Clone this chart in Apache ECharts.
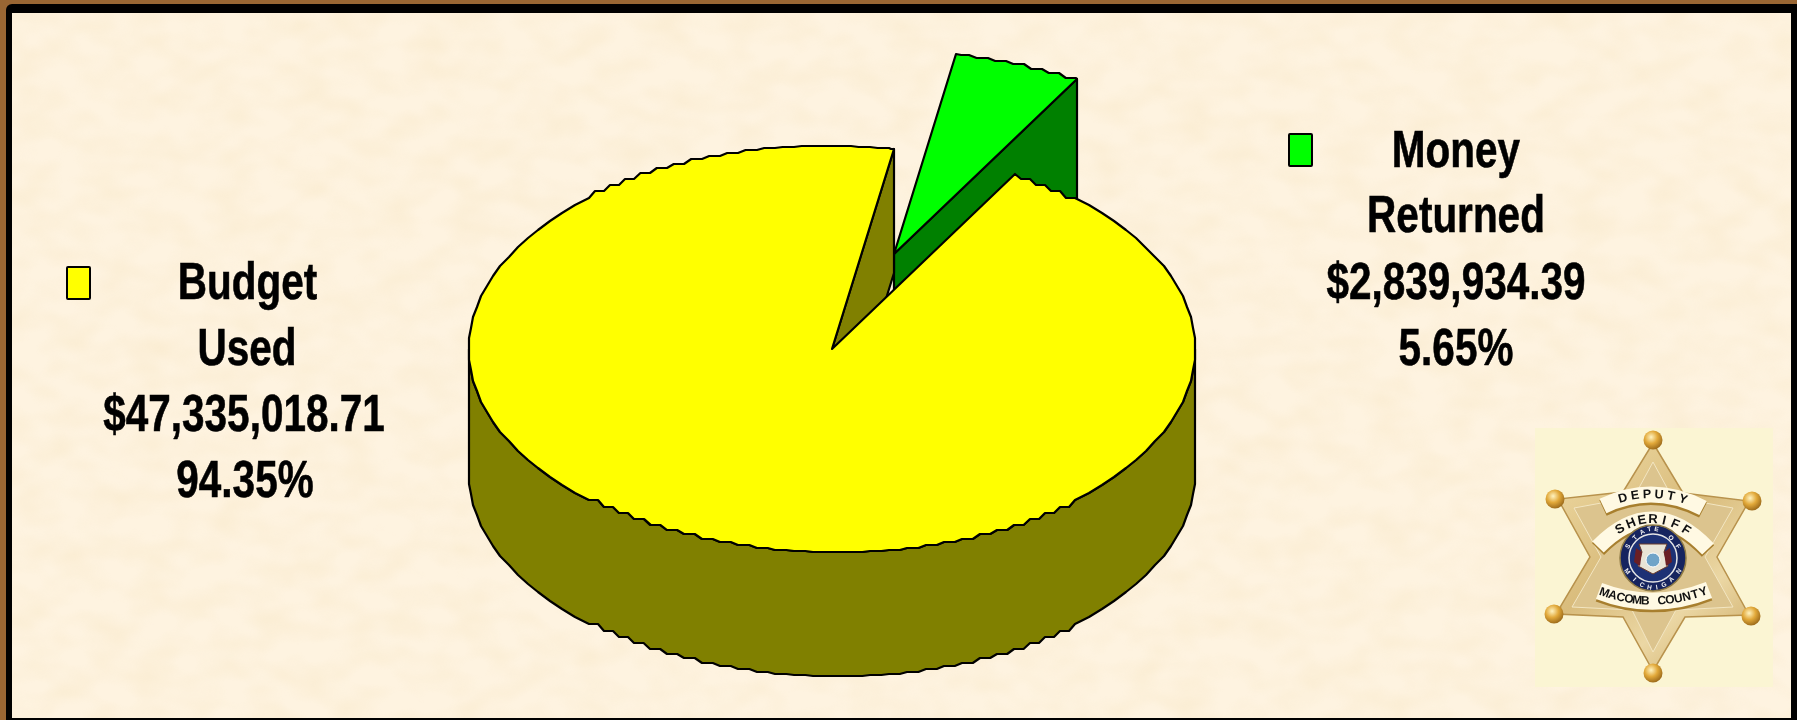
<!DOCTYPE html>
<html><head><meta charset="utf-8">
<script src="https://cdn.jsdelivr.net/npm/echarts@6/dist/echarts.min.js"></script>
<style>
html,body{margin:0;padding:0;width:1797px;height:720px;overflow:hidden;background:#996633}
#frame{position:absolute;left:6px;top:4px;width:1791px;height:716px;background:#000;border-top-left-radius:6px}
#paper{position:absolute;left:12px;top:13px;width:1779px;height:705px;background-color:#FEF3E0;
background-image:url("data:image/svg+xml;utf8,<svg xmlns='http://www.w3.org/2000/svg' width='1779' height='705'><filter id='n' color-interpolation-filters='sRGB' x='0' y='0' width='100%' height='100%'><feTurbulence type='fractalNoise' baseFrequency='0.025 0.04' numOctaves='2' seed='7'/><feColorMatrix values='0 0 0 0 0.95 0 0 0 0 0.87 0 0 0 0 0.70 1.6 0 0 0 -0.55'/></filter><rect width='1779' height='705' filter='url(%23n)' opacity='0.3'/></svg>")}
#chart{position:absolute;left:0;top:0;width:1797px;height:720px}
</style></head><body>
<div id="frame"></div><div id="paper"></div><div id="chart"></div>
<script>
// Chart data (clockwise from the pie's start angle)
const categories = ['Money Returned', 'Budget Used'];
const amounts = [2839934.39, 47335018.71];
const percentLabels = ['5.65%', '94.35%'];
const nameLines = [['Money', 'Returned'], ['Budget', 'Used']];
const topColors = ['#00FF00', '#FFFF00'];
const sideColors = ['#008000', '#808000'];

// 3-D pie layout
const CX = 832, CY = 349, RX = 363, RY = 203, DEPTH = 124, STEP = 3;
const START_DEG = 80.1;
const EXPLODE = [[62, -95], [0, 0]];
const LEGEND = [
  {sw: [1289, 134], textX: [1456, 1456, 1456, 1456], base: [171, 236, 303, 369]},
  {sw: [67, 267], textX: [247.5, 247, 244, 245], base: [303, 369, 435, 501]}
];
const FONT_SIZE = 50, TEXT_SCALE_X = 0.81;
const FONT = '"Liberation Sans",Arial,sans-serif';
const LINE = '#000';

function rimPoint(deg, ox, oy) {
  const a = deg * Math.PI / 180;
  return [Math.round(CX + ox + RX * Math.cos(a)), Math.round(CY + oy - RY * Math.sin(a))];
}
// Rim between two angles on a fixed angle grid, with the stepped outline of the original raster.
// Built in ascending angle order so that the top and bottom rims step identically.
function rim(deg0, deg1, ox, oy) {
  const lo = Math.min(deg0, deg1), hi = Math.max(deg0, deg1), angles = [lo];
  for (let g = (Math.floor(lo / STEP) + 1) * STEP; g < hi; g += STEP) angles.push(g);
  angles.push(hi);
  let prev = rimPoint(angles[0], ox, oy);
  const pts = [prev];
  for (let i = 1; i < angles.length; i++) {
    const q = rimPoint(angles[i], ox, oy);
    const dx = q[0] - prev[0], dy = q[1] - prev[1];
    if (Math.abs(dx) > 2 * Math.abs(dy)) pts.push([prev[0] + 0.6 * dx, prev[1]]);
    pts.push(q); prev = q;
  }
  return deg1 > deg0 ? pts : pts.reverse();
}
function poly(points, fill, lw) {
  return {type: 'polygon', shape: {points}, style: {fill, stroke: LINE, lineWidth: lw || 2.2, lineJoin: 'round'}};
}

function renderSlice(params, api) {
  const i = params.dataIndex;
  const total = amounts.reduce((a, b) => a + b, 0);
  let before = 0; for (let k = 0; k < i; k++) before += api.value(0, k);
  const a0 = START_DEG - before / total * 360;
  const a1 = a0 - api.value(0) / total * 360;
  const [ox, oy] = EXPLODE[i];
  const apex = [CX + ox, CY + oy];
  const p1 = rimPoint(a1, ox, oy);
  const children = [];
  if (i === 1) {
    children.push(poly(rim(180, 360, ox, oy).concat(rim(360, 180, ox, oy + DEPTH)), sideColors[i]));
  }
  children.push(poly([apex, p1, [p1[0], p1[1] + DEPTH], [apex[0], apex[1] + DEPTH]], sideColors[i]));
  children.push(poly([apex].concat(rim(a0, a1, ox, oy)), topColors[i]));
  // legend block
  const L = LEGEND[i];
  children.push({type: 'rect', shape: {x: L.sw[0], y: L.sw[1], width: 23, height: 32, r: 1},
    style: {fill: topColors[i], stroke: LINE, lineWidth: 2}});
  const money = '$' + api.value(0).toLocaleString('en-US', {minimumFractionDigits: 2, maximumFractionDigits: 2});
  nameLines[i].concat([money, percentLabels[i]]).forEach((t, k) => children.push({
    type: 'text', x: L.textX[k], y: L.base[k] - 18, scaleX: TEXT_SCALE_X, scaleY: 1.03,
    style: {x: 0, y: 0, text: t, fill: '#000', stroke: '#000', lineWidth: 0.6, align: 'center', verticalAlign: 'middle',
      font: 'bold ' + FONT_SIZE + 'px ' + FONT}
  }));
  return {type: 'group', children};
}

// Sheriff badge (decoration, no data)
const badge = (function () {
  const out = [];
  const gold = {type: 'linear', x: 0, y: 0, x2: 1, y2: 1, colorStops: [
    {offset: 0, color: '#F0DCA6'}, {offset: .45, color: '#D9BC7C'}, {offset: .7, color: '#EBD7A4'}, {offset: 1, color: '#C9A55E'}]};
  const ball = (x, y) => ({type: 'circle', shape: {cx: x, cy: y, r: 9.5}, style: {
    fill: {type: 'radial', x: .4, y: .35, r: .75, colorStops: [{offset: 0, color: '#FFF3C0'}, {offset: .45, color: '#E2A93A'}, {offset: 1, color: '#8A5A12'}]}}});
  out.push({type: 'rect', shape: {x: 1535, y: 428, width: 238, height: 259}, style: {fill: '#FBF5D3'}});
  out.push({type: 'polygon', shape: {points: [[1653,443],[1683,493],[1749,501],[1717,557],[1749,615],[1685,617],[1653,671],[1623,617],[1556,614],[1590,557],[1558,499],[1623,492]]},
    style: {fill: gold, stroke: '#B8924C', lineWidth: 1.5}});
  out.push({type: 'polygon', shape: {points: [[1653,462],[1672,497],[1733,508],[1705,557],[1733,607],[1676,610],[1653,652],[1632,610],[1572,607],[1601,557],[1574,508],[1634,497]]},
    style: {fill: '#DCC48E', stroke: '#F3E6C2', lineWidth: 1}});
  [[1653,440],[1555,499],[1752,501],[1554,614],[1751,616],[1653,673]].forEach(b => out.push(ball(b[0], b[1])));
  const ribbon = (x1, y1, cx, cy, x2, y2, w) => [
    {type: 'bezierCurve', shape: {x1, y1: y1 + 2, x2, y2: y2 + 2, cpx1: cx, cpy1: cy + 2}, style: {stroke: '#A87F2E', lineWidth: w + 1, fill: null}},
    {type: 'bezierCurve', shape: {x1, y1, x2, y2, cpx1: cx, cpy1: cy}, style: {stroke: '#FFF9E3', lineWidth: w, fill: null}}
  ];
  const curveText = (str, x1, y1, cx, cy, x2, y2, size, t0, t1, color) => {
    [...str].forEach((ch, i) => {
      const t = t0 + (t1 - t0) * (str.length === 1 ? .5 : i / (str.length - 1));
      const u = 1 - t;
      const x = u * u * x1 + 2 * u * t * cx + t * t * x2, y = u * u * y1 + 2 * u * t * cy + t * t * y2;
      const dx = 2 * u * (cx - x1) + 2 * t * (x2 - cx), dy = 2 * u * (cy - y1) + 2 * t * (y2 - cy);
      out.push({type: 'text', x, y, rotation: -Math.atan2(dy, dx), originX: 0, originY: 0,
        style: {x: 0, y: 0, text: ch, align: 'center', verticalAlign: 'middle', fill: color || '#111', font: 'bold ' + size + 'px "Liberation Sans",sans-serif'}});
    });
  };
  out.push(...ribbon(1603, 506, 1653, 482, 1703, 508, 16));
  curveText('DEPUTY', 1603, 506, 1653, 482, 1703, 508, 12.5, .2, .8);
  out.push(...ribbon(1598, 547, 1653, 491, 1708, 549, 16));
  curveText('SHERIFF', 1598, 547, 1653, 491, 1708, 549, 13, .2, .8);
  out.push(...ribbon(1599, 591, 1653, 612, 1709, 590, 17));
  curveText('MACOMB COUNTY', 1599, 591, 1653, 612, 1709, 590, 12, .05, .95);
  out.push({type: 'circle', shape: {cx: 1653, cy: 558, r: 33}, style: {fill: '#16245F', stroke: '#8E7A45', lineWidth: 1.5}});
  out.push({type: 'circle', shape: {cx: 1653, cy: 558, r: 24}, style: {fill: '#1D3175', stroke: '#E6E6E6', lineWidth: 1.5}});
  curveText('STATE OF', 1627, 548, 1653, 510, 1679, 548, 6.5, .02, .98, '#F2F2F2');
  curveText('MICHIGAN', 1626, 570, 1653, 606, 1680, 570, 6.5, .02, .98, '#F2F2F2');
  out.push({type: 'polygon', shape: {points: [[1639,544],[1667,544],[1664,552],[1668,566],[1653,574],[1638,566],[1642,552]]}, style: {fill: '#E9E4D6', stroke: '#6B3B2A', lineWidth: 1}});
  out.push({type: 'polygon', shape: {points: [[1636,548],[1642,552],[1640,566],[1634,562]]}, style: {fill: '#6B1F24'}});
  out.push({type: 'polygon', shape: {points: [[1670,548],[1664,552],[1666,566],[1672,562]]}, style: {fill: '#6B1F24'}});
  out.push({type: 'circle', shape: {cx: 1653, cy: 560, r: 7}, style: {fill: '#6FA3C8', stroke: '#FFF', lineWidth: 1}});
  return out;
})();

const chart = echarts.init(document.getElementById('chart'), null, {renderer: 'canvas'});
chart.setOption({
  animation: false,
  backgroundColor: 'transparent',
  graphic: {elements: badge.map(e => Object.assign({silent: true}, e))},
  series: [{
    type: 'custom',
    coordinateSystem: 'none',
    renderItem: renderSlice,
    encode: {value: 0},
    data: categories.map((name, i) => ({name, value: [amounts[i]]}))
  }]
});
</script>
</body></html>
